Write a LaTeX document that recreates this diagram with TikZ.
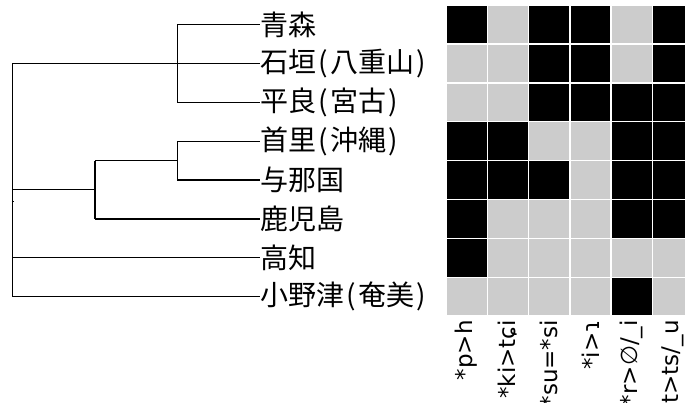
\documentclass[tikz,border=0pt]{standalone}
\usepackage{fontspec}
\newfontfamily\jpfont{Noto Sans CJK JP}
\newfontfamily\dvfont{DejaVu Sans}
\definecolor{cellgray}{RGB}{204,204,204}
\newcommand{\lpar}{\makebox[14pt]{(}}
\newcommand{\rpar}{\makebox[14pt]{)}}
\tikzset{
  leaf/.style={anchor=west, inner sep=0pt, font=\jpfont\fontsize{28}{28}\selectfont},
  collab/.style={rotate=90, anchor=east, inner sep=0pt, font=\dvfont\fontsize{23}{23}\selectfont},
  branch/.style={line width=1.2pt, black},
  cellbox/.style={draw=white, line width=1.5pt}
}
\begin{document}
\begin{tikzpicture}[x=1pt,y=-1pt]
\useasboundingbox (0,0) rectangle (685,403);
\clip (0,0) rectangle (685,403);
% leaves
\node[leaf] (l1) at (260,24.5) {青森};
\node[leaf] (l2) at (260,63.4) {石垣\lpar 八重山\rpar};
\node[leaf] (l3) at (260,102.3) {平良\lpar 宮古\rpar};
\node[leaf] (l4) at (260,141.2) {首里\lpar 沖縄\rpar};
\node[leaf] (l5) at (260,180.1) {与那国};
\node[leaf] (l6) at (260,219.0) {鹿児島};
\node[leaf] (l7) at (260,257.9) {高知};
\node[leaf] (l8) at (260,296.8) {小野津\lpar 奄美\rpar};
% internal points
\coordinate (a) at (177.3,63.4);
\coordinate (c) at (177.3,160.6);
\coordinate (b1) at (95,160.6);
\coordinate (b2) at (95,219.0);
\coordinate (b) at (95,189.8);
\coordinate (rtop) at (12.3,63.4);
\coordinate (rb) at (12.3,189.8);
\coordinate (r7) at (12.3,257.9);
\coordinate (rbot) at (12.3,296.8);
\coordinate (rs1) at (11.8,201.3);
\coordinate (rs2) at (14.0,201.3);
% tree
\draw[branch] (a) |- (l1.west);
\draw[branch] (a) |- (l3.west);
\draw[branch] (rtop) -- (l2.west);
\draw[branch] (rtop) -- (rbot);
\draw[branch] (rbot) -- (l8.west);
\draw[branch] (r7) -- (l7.west);
\draw[branch] (rb) -- (b);
\draw[branch] (b1) -- (b2);
\draw[branch] (b2) -- (l6.west);
\draw[branch] (b1) -- (c);
\draw[branch] (c) |- (l4.west);
\draw[branch] (c) |- (l5.west);
\draw[line width=1.2pt] (rs1) -- (rs2);
% grid
\foreach \row [count=\r from 0] in {{1,0,1,1,0,1},{0,0,1,1,0,1},{0,0,1,1,1,1},{1,1,0,0,1,1},{1,1,1,0,1,1},{1,0,0,0,1,1},{1,0,0,0,0,0},{0,0,0,0,1,0}}{
  \foreach \v [count=\c from 0] in \row {
    \ifnum\v=1 \def\cellcol{black}\else\def\cellcol{cellgray}\fi
    \path[cellbox, fill=\cellcol] ({446+41.3*\c},{5+38.9*\r}) rectangle ({446+41.3*(\c+1)},{5+38.9*(\r+1)});
  }
}
% column labels
\node[collab] (k1) at (466.6,320) {*p>h};
\node[collab] (k2) at (507.9,320) {*ki>tɕi};
\node[collab] (k3) at (549.2,320) {*su=*si};
\node[collab] (k4) at (590.5,320) {*i>ɿ};
\node[collab] (k5) at (631.8,320) {*r>∅/\_i};
\node[collab] (k6) at (673.1,320) {*t>ts/\_u};
\end{tikzpicture}
\end{document}
